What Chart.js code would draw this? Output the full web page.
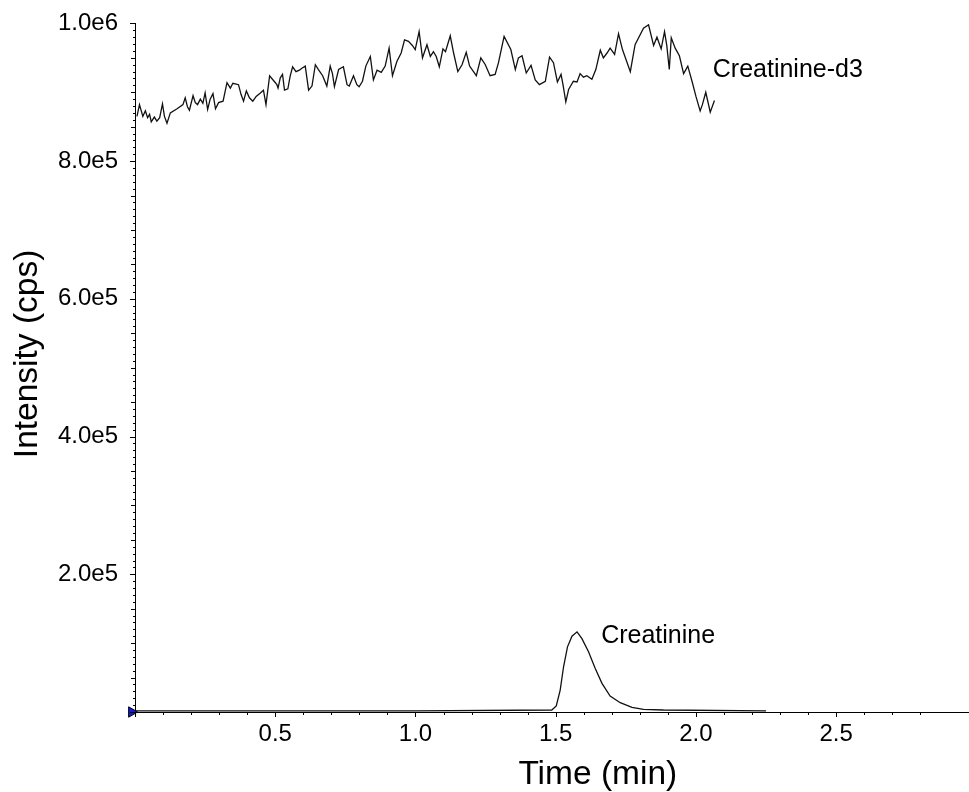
<!DOCTYPE html>
<html>
<head>
<meta charset="utf-8">
<script src="https://cdn.jsdelivr.net/npm/chart.js@4.4.1/dist/chart.umd.min.js"></script>
<style>
  html, body { margin: 0; padding: 0; background: #fff; overflow: hidden; }
  #wrap { width: 969px; height: 792px; }
</style>
</head>
<body>
<div id="wrap"><canvas id="chart"></canvas></div>
<script>
// Creatinine-d3 trace (time in min, intensity in cps)
const d3Time = [0.007,0.016,0.028,0.037,0.045,0.052,0.058,0.069,0.078,0.088,
  0.098,0.105,0.114,0.126,0.150,0.171,0.179,0.187,0.194,0.207,
  0.215,0.223,0.233,0.242,0.250,0.259,0.268,0.278,0.287,0.298,
  0.314,0.328,0.340,0.349,0.369,0.378,0.387,0.397,0.408,0.420,
  0.432,0.447,0.458,0.467,0.480,0.496,0.506,0.510,0.518,0.526,
  0.533,0.545,0.553,0.562,0.574,0.586,0.595,0.607,0.619,0.631,
  0.643,0.654,0.669,0.684,0.696,0.704,0.711,0.726,0.743,0.756,
  0.764,0.779,0.791,0.799,0.811,0.823,0.839,0.850,0.863,0.878,
  0.892,0.906,0.918,0.934,0.949,0.961,0.975,0.989,0.999,1.013,
  1.025,1.041,1.053,1.064,1.074,1.085,1.098,1.107,1.124,1.136,
  1.151,1.166,1.181,1.193,1.217,1.233,1.249,1.266,1.284,1.296,
  1.316,1.340,1.356,1.367,1.380,1.395,1.412,1.427,1.442,1.463,
  1.478,1.492,1.506,1.519,1.526,1.536,1.546,1.563,1.576,1.587,
  1.599,1.611,1.629,1.643,1.659,1.670,1.683,1.694,1.710,1.724,
  1.738,1.766,1.783,1.813,1.831,1.849,1.861,1.876,1.888,1.896,
  1.905,1.912,1.926,1.941,1.956,1.971,1.986,2.000,2.015,2.023,
  2.035,2.051,2.066];
const d3Counts = [865000,882000,865000,873000,863000,868000,857000,864000,858000,863000,
  883000,865000,855000,870000,876000,882000,892000,879000,874000,895000,
  885000,882000,890000,884000,899000,875000,890000,898000,876000,885000,
  887000,914000,906000,913000,911000,897000,887000,902000,892000,887000,
  894000,899000,903000,882000,924000,916000,911000,906000,921000,926000,
  903000,905000,923000,937000,930000,932000,935000,938000,903000,909000,
  940000,933000,924000,909000,938000,927000,908000,933000,937000,911000,
  909000,924000,911000,908000,916000,938000,952000,918000,932000,929000,
  938000,964000,924000,945000,957000,976000,974000,968000,962000,988000,
  950000,969000,952000,959000,952000,937000,963000,959000,982000,957000,
  930000,940000,958000,938000,924000,950000,940000,924000,926000,943000,
  981000,962000,933000,950000,953000,928000,939000,918000,911000,916000,
  951000,943000,915000,926000,911000,886000,904000,916000,915000,927000,
  922000,924000,919000,933000,961000,950000,957000,964000,955000,985000,
  962000,930000,969000,993000,998000,968000,980000,963000,988000,968000,
  933000,979000,964000,953000,927000,938000,916000,894000,873000,882000,
  900000,871000,888000];

// Creatinine trace
const crTime = [0.00,0.50,1.00,1.486,1.502,1.516,1.528,1.542,1.558,1.576,
  1.593,1.617,1.641,1.665,1.694,1.730,1.772,1.813,1.884,2.25];
const crCounts = [1500,1500,1500,2900,8700,31900,65700,94600,110100,116400,
  106800,87400,63300,41600,23200,13500,6800,3900,2900,1500];

// peak labels
const peakNames = ['Creatinine-d3', 'Creatinine'];
const peakTime = [2.060, 1.662];
const peakCounts = [932000, 110000];

// start marker
const markerTime = [-0.012];
const markerCounts = [0];

// axis titles
const xTitle = 'Time (min)';
const yTitle = 'Intensity (cps)';

const FONT = "'Liberation Sans', Arial, Helvetica, sans-serif";

function pts(xs, ys) {
  return xs.map((x, i) => ({ x: x, y: ys[i] }));
}

function near(v, step) {
  return Math.abs(v / step - Math.round(v / step)) < 1e-6;
}

// tick marks of three lengths, peak labels and axis titles
const extras = {
  id: 'extras',
  afterDatasetsDraw(chart) {
    const ctx = chart.ctx;
    const xs = chart.scales.x, ys = chart.scales.y;
    ctx.save();
    ctx.strokeStyle = '#000';
    ctx.lineWidth = 1;
    ctx.beginPath();
    xs.ticks.forEach(t => {
      if (!near(t.value, 0.1)) return;
      const px = Math.round(xs.getPixelForValue(t.value)) + 0.5;
      const len = near(t.value, 0.5) ? 5 : 3;
      ctx.moveTo(px, ys.bottom);
      ctx.lineTo(px, ys.bottom + len);
    });
    ys.ticks.forEach(t => {
      const py = Math.round(ys.getPixelForValue(t.value)) + 0.5;
      let len = 2;
      if (near(t.value, 200000)) len = 5;
      else if (near(t.value, 50000)) len = 4;
      ctx.moveTo(xs.left - len, py);
      ctx.lineTo(xs.left, py);
    });
    ctx.stroke();

    ctx.fillStyle = '#000';
    ctx.font = '25px ' + FONT;
    ctx.textAlign = 'left';
    ctx.textBaseline = 'middle';
    peakNames.forEach((name, i) => {
      ctx.fillText(name, xs.getPixelForValue(peakTime[i]), ys.getPixelForValue(peakCounts[i]));
    });

    ctx.font = '33.5px ' + FONT;
    ctx.textAlign = 'center';
    ctx.fillText(xTitle, xs.getPixelForValue(1.65), chart.height - 17);
    ctx.translate(28, ys.getPixelForValue(520000));
    ctx.rotate(-Math.PI / 2);
    ctx.fillText(yTitle, 0, 0);
    ctx.restore();
  }
};

new Chart('chart', {
  type: 'scatter',
  data: {
    datasets: [
      {
        label: 'Creatinine-d3',
        data: pts(d3Time, d3Counts),
        showLine: true,
        borderColor: '#111',
        borderWidth: 1.3,
        pointRadius: 0,
        tension: 0
      },
      {
        label: 'Creatinine',
        data: pts(crTime, crCounts),
        showLine: true,
        borderColor: '#111',
        borderWidth: 1.3,
        pointRadius: 0,
        tension: 0
      },
      {
        label: 'start',
        data: pts(markerTime, markerCounts),
        showLine: false,
        pointStyle: 'triangle',
        rotation: 90,
        pointRadius: 6,
        backgroundColor: '#1a1ad6',
        borderColor: '#000',
        borderWidth: 1,
        clip: false
      }
    ]
  },
  options: {
    responsive: true,
    maintainAspectRatio: false,
    animation: false,
    layout: { autoPadding: false, padding: { top: 22, right: 1, left: 0, bottom: 0 } },
    plugins: {
      legend: { display: false },
      tooltip: { enabled: false }
    },
    scales: {
      x: {
        type: 'linear',
        min: 0,
        max: 2.97,
        grid: { display: false },
        border: { display: true, color: '#000', width: 1 },
        ticks: {
          stepSize: 0.1,
          autoSkip: false,
          maxRotation: 0,
          padding: 0,
          color: '#000',
          font: { family: FONT, size: 24 },
          callback: (v) => (v > 0 && v < 2.96 && near(v, 0.5)) ? v.toFixed(1) : ''
        },
        afterFit: (s) => { s.height = 80; s.paddingRight = 0; s.paddingLeft = 0; }
      },
      y: {
        type: 'linear',
        min: 0,
        max: 1000000,
        grid: { display: false },
        border: { display: true, color: '#000', width: 1 },
        ticks: {
          stepSize: 10000,
          autoSkip: false,
          padding: 9,
          color: '#000',
          font: { family: FONT, size: 24 },
          callback: (v) => (v > 0 && near(v, 200000)) ? v.toExponential(1).replace('+', '') : ''
        },
        afterFit: (s) => { s.width = 135; }
      }
    }
  },
  plugins: [extras]
});
</script>
</body>
</html>
